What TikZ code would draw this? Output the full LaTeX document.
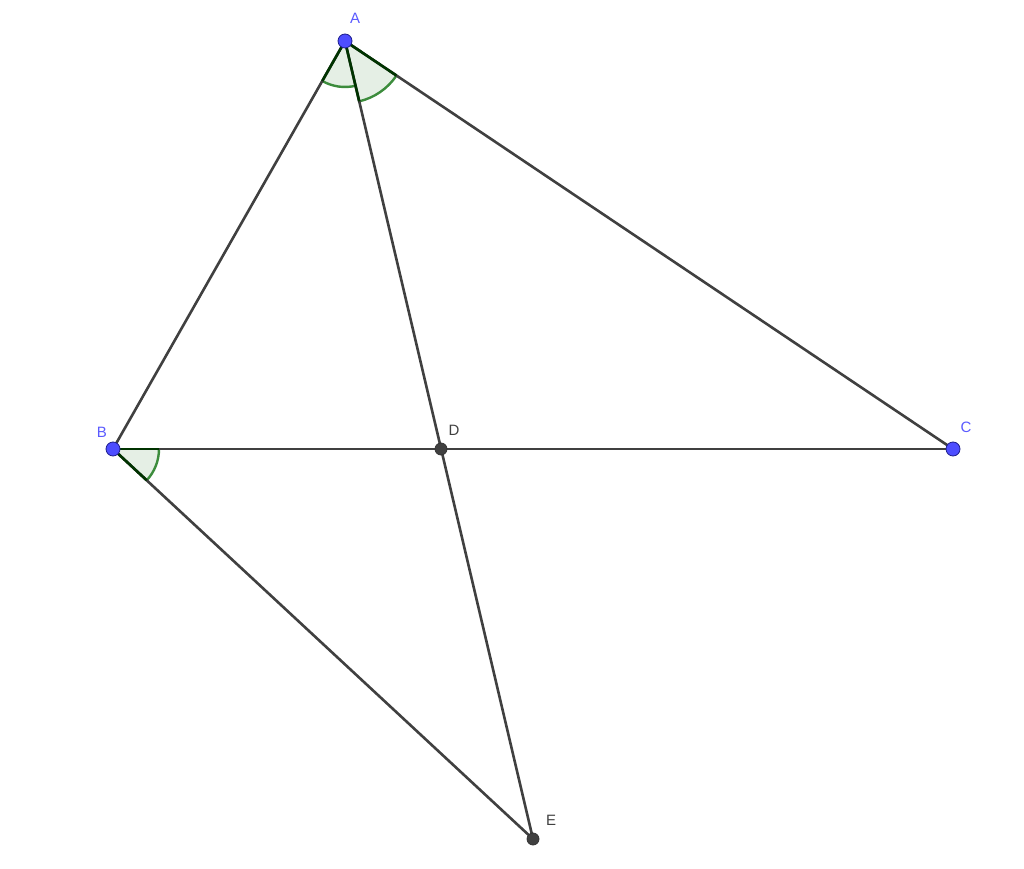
\documentclass[tikz,border=0pt]{standalone}
\usepackage{fontspec}
\setmainfont{Liberation Sans}
\begin{document}
\begin{tikzpicture}[x=1pt,y=1pt,
  seg/.style={draw=segcol, line width=2.6pt},
  sector/.style={fill=green!40!black, fill opacity=0.1},
  arcline/.style={draw=arcgreen, line width=2.4pt},
  edge/.style={draw=black!80!green, line width=2.6pt},
  bluept/.style={circle, fill=ptblue, draw=ptborder, line width=0.8pt, minimum size=14pt, inner sep=0pt},
  darkpt/.style={circle, fill=segcol, draw=black!80, line width=0.8pt, minimum size=12pt, inner sep=0pt},
  bluelbl/.style={text=lblblue, font=\fontsize{15}{18}\selectfont, inner sep=0pt},
  darklbl/.style={text=segcol, font=\fontsize{15}{18}\selectfont, inner sep=0pt}]
\definecolor{segcol}{RGB}{64,64,64}
\definecolor{arcgreen}{RGB}{60,140,60}
\definecolor{ptblue}{RGB}{77,77,255}
\definecolor{ptborder}{RGB}{30,30,140}
\definecolor{lblblue}{RGB}{90,90,255}
\useasboundingbox (0,0) rectangle (1024,868);
\coordinate (A) at (345,827);
\coordinate (B) at (113,419);
\coordinate (C) at (953,419);
\coordinate (D) at (441,419);
\coordinate (E) at (533,29);
% angle sectors
\fill[sector] (A) -- ++(240.38:46) arc[start angle=240.38, end angle=283.24, radius=46] -- cycle;
\fill[sector] (A) -- ++(283.24:62) arc[start angle=283.24, end angle=326.13, radius=62] -- cycle;
\fill[sector] (B) -- ++(-42.88:46) arc[start angle=-42.88, end angle=0, radius=46] -- cycle;
\draw[arcline] (A) ++(240.38:46) arc[start angle=240.38, end angle=283.24, radius=46];
\draw[arcline] (A) ++(283.24:62) arc[start angle=283.24, end angle=326.13, radius=62];
\draw[arcline] (B) ++(-42.88:46) arc[start angle=-42.88, end angle=0, radius=46];
% segments
\draw[seg] (A) -- (B);
\draw[seg] (A) -- (C);
\draw[seg] (B) -- (C);
\draw[seg] (A) -- (E);
\draw[seg] (B) -- (E);
% darker edges of sectors
\draw[edge] (A) -- ++(240.38:46);
\draw[edge] (A) -- ++(283.24:62);
\draw[edge] (A) -- ++(326.13:62);
\draw[edge] (B) -- ++(-42.88:46);
\draw[edge] (B) -- ++(0:46);
% points
\node[bluept] (pA) at (A) {};
\node[bluept] (pB) at (B) {};
\node[bluept] (pC) at (C) {};
\node[darkpt] (pD) at (D) {};
\node[darkpt] (pE) at (E) {};
% labels
\node[bluelbl] (lA) at (355,850) {A};
\node[bluelbl] (lB) at (102,436) {B};
\node[bluelbl] (lC) at (966,441) {C};
\node[darklbl] (lD) at (454,438) {D};
\node[darklbl] (lE) at (551,48) {E};
\end{tikzpicture}
\end{document}
